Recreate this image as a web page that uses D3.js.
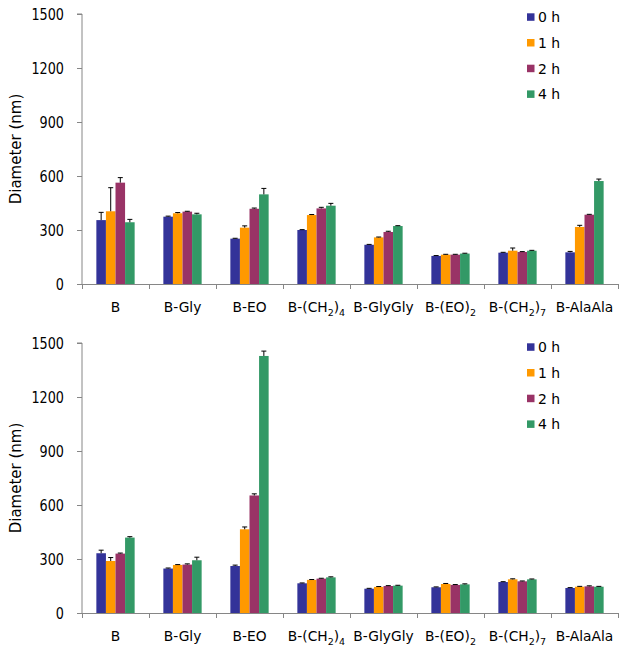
<!DOCTYPE html>
<html><head><meta charset="utf-8">
<script src="https://cdn.jsdelivr.net/npm/d3@7"></script>
<style>body{margin:0;background:#fff}svg{display:block}text{font-family:"DejaVu Sans",Verdana,sans-serif;fill:#000}</style>
</head><body>
<script>
const categories = ["B","B-Gly","B-EO","B-(CH2)4","B-GlyGly","B-(EO)2","B-(CH2)7","B-AlaAla"];
const series = ["0 h","1 h","2 h","4 h"];
const colors = ["#333399","#FF9900","#993366","#339966"];
const yTicks = [0,300,600,900,1200,1500];
// top panel: values per series (rows) across categories
const topValues = [
  [355,374,252,300,218,156,174,176],
  [404,393,313,383,259,163,185,317],
  [563,402,418,420,289,163,178,385],
  [343,387,498,435,322,169,185,572]
];
const topErrors = [
  [43,3,2,2,2,2,2,5],
  [131,4,10,3,2,2,15,9],
  [28,2,4,6,4,2,2,2],
  [16,6,33,13,2,2,2,11]
];
// bottom panel
const bottomValues = [
  [332,247,261,165,135,143,172,139],
  [289,267,465,184,145,161,187,146],
  [330,269,653,191,150,156,176,148],
  [419,293,1428,198,152,159,187,146]
];
const bottomErrors = [
  [17,3,5,2,2,2,2,2],
  [19,2,13,2,2,3,3,2],
  [3,4,9,2,2,2,2,3],
  [5,17,27,3,2,3,2,2]
];

const W=625,H=652, SY=1.2;
const svg=d3.select("body").append("svg").attr("width",W).attr("height",H);

function labelParts(c){
  const parts=[]; let re=/(\d)/g, last=0, mm;
  while((mm=re.exec(c))){ if(mm.index>last) parts.push({t:c.slice(last,mm.index),sub:false}); parts.push({t:mm[1],sub:true}); last=mm.index+1; }
  if(last<c.length) parts.push({t:c.slice(last),sub:false});
  return parts;
}

function panel(top,bottom,values,errors,legendY){
  const x0=d3.scaleBand().domain(categories).range([82,618]).paddingInner(0).paddingOuter(0);
  const bw=x0.bandwidth();
  const gw=bw*4/7;
  const x1=d3.scaleBand().domain(series).range([(bw-gw)/2,(bw+gw)/2]);
  const y=d3.scaleLinear().domain([0,1500]).range([bottom,top]);
  const g=svg.append("g");

  // y axis
  const ya=g.append("g").attr("transform","translate(82,0)").call(d3.axisLeft(y).tickValues(yTicks).tickSize(5).tickPadding(13).tickFormat(d3.format("d")));
  ya.select(".domain").attr("stroke","#868686").attr("d",`M-5,${top}H0V${bottom}`);
  ya.selectAll(".tick line").attr("stroke","#868686");
  ya.selectAll(".tick text").attr("font-size",12.8).attr("font-family","DejaVu Sans").attr("fill","#000")
    .attr("dy","0.36em").attr("transform",`scale(1,${SY})`);

  // x axis line and ticks
  const bounds=categories.map(c=>x0(c)).concat([618]);
  g.append("line").attr("x1",82).attr("x2",618).attr("y1",bottom+0.5).attr("y2",bottom+0.5).attr("stroke","#868686");
  g.selectAll(".xt").data(bounds).enter().append("line").attr("x1",d=>Math.round(d)+0.5).attr("x2",d=>Math.round(d)+0.5)
    .attr("y1",bottom).attr("y2",bottom+5).attr("stroke","#868686");

  // bars
  series.forEach((s,i)=>{
    g.selectAll(null).data(categories).enter().append("rect")
      .attr("x",c=>x0(c)+x1(s)).attr("width",x1.bandwidth())
      .attr("y",(c,j)=>y(values[i][j])).attr("height",(c,j)=>bottom-y(values[i][j]))
      .attr("fill",colors[i]);
    g.selectAll(null).data(categories).enter().append("path")
      .attr("d",(c,j)=>{const cx=x0(c)+x1(s)+x1.bandwidth()/2; const y0=y(values[i][j]), y1=y(values[i][j]+errors[i][j]);
        return `M${cx},${y0}V${y1}M${cx-2.5},${y1}H${cx+2.5}`;})
      .attr("stroke","#000").attr("stroke-width",1).attr("fill","none");
  });

  // x labels
  categories.forEach(c=>{
    const t=g.append("text").attr("transform",`translate(${x0(c)+bw/2},${bottom+28})`)
      .attr("text-anchor","middle").attr("font-size",13.8);
    let prevSub=false;
    labelParts(c).forEach(p=>{
      if(p.sub){ t.append("tspan").attr("font-size",9.5).attr("dy",prevSub?0:4).text(p.t); prevSub=true; }
      else { t.append("tspan").attr("dy",prevSub?-4:0).text(p.t); prevSub=false; }
    });
  });

  // y title
  g.append("text").attr("transform",`translate(21,${(top+bottom)/2}) rotate(-90)`).attr("text-anchor","middle").attr("font-size",15).text("Diameter (nm)");

  // legend
  series.forEach((s,i)=>{
    const yy=legendY+i*25.7;
    g.append("rect").attr("x",527).attr("y",yy-3.7).attr("width",7.5).attr("height",7.5).attr("fill",colors[i]);
    g.append("text").attr("transform",`translate(538,${yy}) scale(1,1.05)`).attr("dy","0.36em").attr("font-size",14).text(s);
  });
}

panel(14,284,topValues,topErrors,17);
panel(343,613,bottomValues,bottomErrors,347);
</script>
</body></html>
